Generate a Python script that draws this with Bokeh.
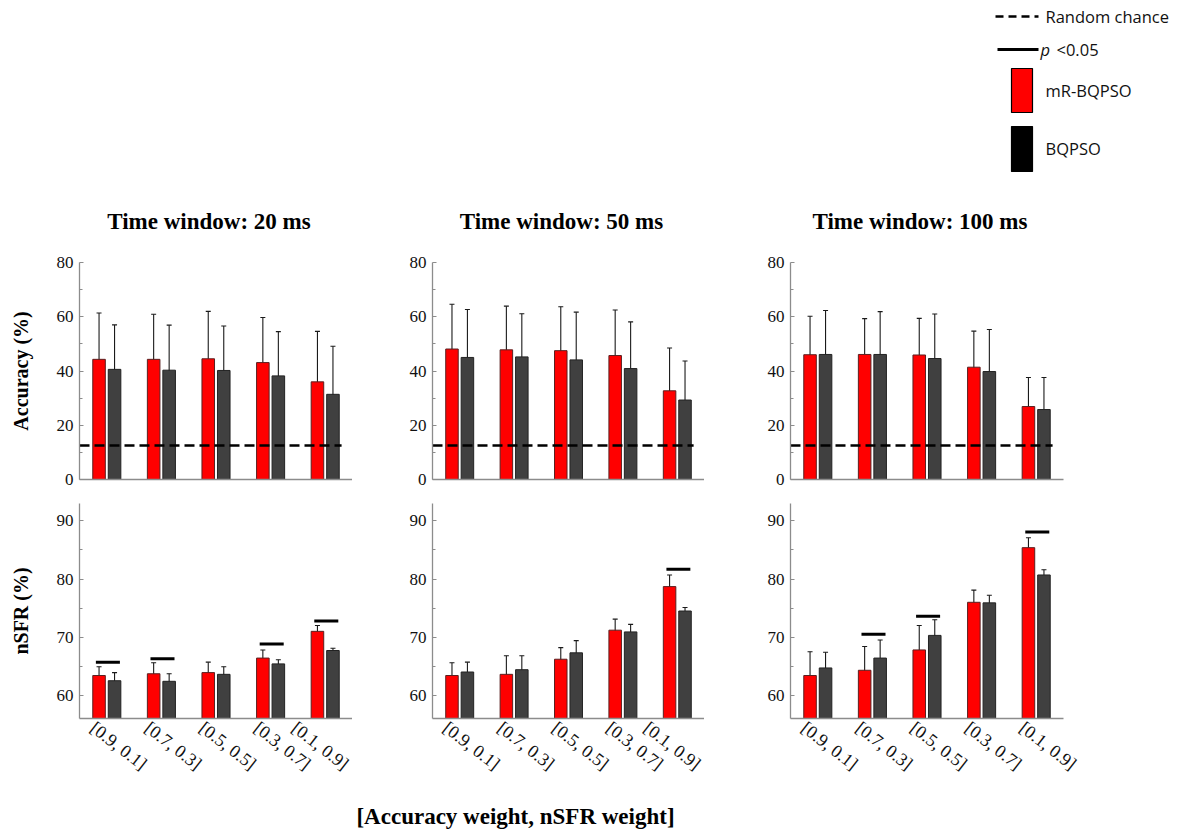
import math
from bokeh.plotting import figure
from bokeh.layouts import column, row
from bokeh.models import ColumnDataSource, Whisker, TeeHead, FixedTicker, Range1d
from bokeh.core.properties import value
from bokeh.embed import file_html
from bokeh.resources import INLINE

# ---------------- data ----------------
weights = ["[0.9, 0.1]", "[0.7, 0.3]", "[0.5, 0.5]", "[0.3, 0.7]", "[0.1, 0.9]"]
windows = ["Time window: 20 ms", "Time window: 50 ms", "Time window: 100 ms"]
methods = ["mR-BQPSO", "BQPSO"]

acc_mr_mean = [[44.3, 44.3, 44.5, 43.1, 36.0],
               [48.1, 47.8, 47.5, 45.7, 32.7],
               [46.0, 46.1, 45.9, 41.4, 26.9]]
acc_mr_hi = [[61.4, 60.9, 62.0, 59.7, 54.6],
             [64.6, 63.9, 63.7, 62.5, 48.5],
             [60.2, 59.3, 59.4, 54.7, 37.6]]
acc_mr_lo = [[25.5, 26.1, 26.0, 24.8, 16.9],
             [28.7, 28.6, 30.0, 26.9, 14.6],
             [30.1, 30.7, 30.1, 26.5, 17.0]]
acc_bq_mean = [[40.6, 40.3, 40.2, 38.2, 31.4],
               [45.0, 45.2, 44.1, 40.9, 29.3],
               [46.1, 46.1, 44.6, 39.8, 25.8]]
acc_bq_hi = [[57.0, 56.9, 56.6, 54.5, 49.1],
             [62.7, 61.1, 61.7, 58.1, 43.7],
             [62.3, 61.9, 61.0, 55.3, 37.6]]
acc_bq_lo = [[21.9, 21.4, 21.7, 19.5, 11.7],
             [25.3, 25.7, 25.2, 21.2, 13.5],
             [28.0, 27.4, 26.4, 22.3, 11.2]]

nsfr_mr_mean = [[63.4, 63.7, 63.9, 66.4, 71.0],
                [63.4, 63.6, 66.2, 71.2, 78.7],
                [63.4, 64.3, 67.8, 76.0, 85.4]]
nsfr_mr_hi = [[64.9, 65.6, 65.7, 67.8, 72.0],
              [65.6, 66.8, 68.2, 73.1, 80.7],
              [67.5, 68.4, 72.0, 78.1, 87.1]]
nsfr_mr_lo = [[61.9, 61.7, 62.0, 64.9, 70.1],
              [61.7, 60.7, 64.1, 68.3, 77.6],
              [59.7, 61.5, 65.0, 72.9, 83.4]]
nsfr_bq_mean = [[62.5, 62.4, 63.6, 65.4, 67.7],
                [64.0, 64.4, 67.3, 70.9, 74.5],
                [64.7, 66.4, 70.3, 75.9, 80.7]]
nsfr_bq_hi = [[63.9, 63.7, 64.9, 66.1, 68.1],
              [65.7, 66.8, 69.4, 72.2, 75.1],
              [67.4, 69.5, 73.0, 77.2, 81.6]]
nsfr_bq_lo = [[61.0, 61.1, 62.2, 64.7, 67.3],
              [62.2, 61.9, 65.1, 69.6, 74.2],
              [62.0, 63.3, 67.6, 74.4, 79.7]]
# height of the "p < 0.05" significance bars (None = not significant)
nsfr_sig = [[65.7, 66.3, None, 68.8, 72.8],
            [None, None, None, None, 81.7],
            [None, 70.5, 73.6, None, 88.1]]
random_chance = 12.5

acc_ticks = [0, 20, 40, 60, 80]
acc_minor = [10, 30, 50, 70]
nsfr_ticks = [60, 70, 80, 90]
nsfr_minor = [65, 75, 85]

# ---------------- style / layout ----------------
RED = "#ff0000"
DARK = "#404040"
SERIF = "Liberation Serif"
SANS = "Open Sans"
W = 1179
HEADER_H = 245
FRAME_L = [79, 432, 790]
FRAME_R = [352, 704, 1063]
CELL_L = [0, 352, 704]
CELL_R = [352, 704, W]
BAR_W = 0.23
OFF = 0.142
LABEL_SHIFT = 0.26
AX_GRAY = "#8c8c8c"

xs = [i + 1 for i in range(len(weights))]


def style_axes(p, ticks, minor, show_x_labels, ylabel):
    p.grid.visible = False
    p.outline_line_color = None
    p.toolbar_location = None
    ya = p.yaxis[0]
    ya.ticker = FixedTicker(ticks=ticks, minor_ticks=minor)
    ya.axis_line_color = AX_GRAY
    ya.axis_line_width = 1.3
    ya.major_tick_line_color = AX_GRAY
    ya.minor_tick_line_color = AX_GRAY
    ya.major_tick_in = 4
    ya.major_tick_out = 0
    ya.minor_tick_in = 3
    ya.minor_tick_out = 0
    ya.major_label_text_font = SERIF
    ya.major_label_text_font_size = "17px"
    ya.major_label_text_color = "#111111"
    ya.major_label_standoff = 6
    if ylabel:
        ya.axis_label = ylabel
        ya.axis_label_text_font = SERIF
        ya.axis_label_text_font_style = "bold"
        ya.axis_label_text_font_size = "20px"
        ya.axis_label_text_color = "#000000"
        ya.axis_label_standoff = 22
    xa = p.xaxis[0]
    xa.axis_line_color = AX_GRAY
    xa.axis_line_width = 1.3
    xa.major_tick_in = 0
    xa.major_tick_out = 0
    xa.minor_tick_line_color = None
    if show_x_labels:
        ticks_x = [x - LABEL_SHIFT for x in xs]
        xa.ticker = FixedTicker(ticks=ticks_x)
        xa.major_label_overrides = {t: w for t, w in zip(ticks_x, weights)}
        xa.major_label_orientation = -0.66
        xa.major_label_text_font = SERIF
        xa.major_label_text_font_size = "18px"
        xa.major_label_text_color = "#111111"
        xa.major_label_standoff = 7
    else:
        xa.ticker = FixedTicker(ticks=[])
        xa.major_label_standoff = 0


def bars(p, mr_m, mr_lo, mr_hi, bq_m, bq_lo, bq_hi):
    src_mr = ColumnDataSource(dict(x=[x - OFF for x in xs], top=mr_m, lo=mr_lo, hi=mr_hi))
    src_bq = ColumnDataSource(dict(x=[x + OFF for x in xs], top=bq_m, lo=bq_lo, hi=bq_hi))
    p.vbar(x="x", top="top", bottom=0, width=BAR_W, source=src_mr,
           fill_color=RED, line_color="#5a2020", line_width=1)
    p.vbar(x="x", top="top", bottom=0, width=BAR_W, source=src_bq,
           fill_color=DARK, line_color="#222222", line_width=1)
    for src in (src_mr, src_bq):
        w = Whisker(source=src, base="x", upper="hi", lower="lo",
                    line_color="#1a1a1a", line_width=1.1,
                    upper_head=TeeHead(size=5, line_color="#1a1a1a", line_width=1.1),
                    lower_head=TeeHead(size=5, line_color="#1a1a1a", line_width=1.1))
        p.add_layout(w)


top_figs = []
bot_figs = []
for k in range(3):
    ml = FRAME_L[k] - CELL_L[k]
    mr = CELL_R[k] - FRAME_R[k]
    # accuracy panel
    pt = figure(width=CELL_R[k] - CELL_L[k], height=17 + 217 + 12,
                x_range=Range1d(0.5, 5.5), y_range=Range1d(0, 80),
                output_backend="svg", toolbar_location=None,
                min_border_left=ml, min_border_right=mr,
                min_border_top=17, min_border_bottom=12)
    bars(pt, acc_mr_mean[k], acc_mr_lo[k], acc_mr_hi[k],
         acc_bq_mean[k], acc_bq_lo[k], acc_bq_hi[k])
    pt.segment(x0=[0.5], x1=[xs[-1] + 0.3], y0=[random_chance], y1=[random_chance],
               line_color="black", line_width=2.5, line_dash="10 5")
    style_axes(pt, acc_ticks, acc_minor, False, "Accuracy (%)" if k == 0 else None)
    top_figs.append(pt)

    # nSFR panel
    pb = figure(width=CELL_R[k] - CELL_L[k], height=12 + 215 + 75,
                x_range=Range1d(0.5, 5.5), y_range=Range1d(56, 93),
                output_backend="svg", toolbar_location=None,
                min_border_left=ml, min_border_right=mr,
                min_border_top=12, min_border_bottom=75)
    bars(pb, nsfr_mr_mean[k], nsfr_mr_lo[k], nsfr_mr_hi[k],
         nsfr_bq_mean[k], nsfr_bq_lo[k], nsfr_bq_hi[k])
    sx0, sx1, sy = [], [], []
    for x, s in zip(xs, nsfr_sig[k]):
        if s is not None:
            sx0.append(x - 0.2)
            sx1.append(x + 0.24)
            sy.append(s)
    if sy:
        pb.segment(x0=sx0, x1=sx1, y0=sy, y1=sy, line_color="black", line_width=3)
    style_axes(pb, nsfr_ticks, nsfr_minor, True, "nSFR (%)" if k == 0 else None)
    bot_figs.append(pb)

# header: legend + panel titles
hd = figure(width=W, height=HEADER_H, x_range=Range1d(0, W), y_range=Range1d(HEADER_H, 0),
            x_axis_type=None, y_axis_type=None, output_backend="svg", toolbar_location=None,
            min_border_left=0, min_border_right=0, min_border_top=0, min_border_bottom=0)
hd.grid.visible = False
hd.outline_line_color = None
hd.segment(x0=[995], x1=[1038], y0=[16], y1=[16], line_color="black", line_width=2.5, line_dash="8 5")
hd.text(x=[1045], y=[16], text=["Random chance"], text_font=value(SANS), text_font_size="16.5px",
        text_baseline="middle", text_align="left", text_color="#111111")
hd.segment(x0=[997], x1=[1038], y0=[49], y1=[49], line_color="black", line_width=3)
hd.text(x=[1040], y=[49], text=["p"], text_font=value(SANS), text_font_size="16.5px",
        text_font_style="italic", text_baseline="middle", text_align="left", text_color="#111111")
hd.text(x=[1056], y=[49], text=["<0.05"], text_font=value(SANS), text_font_size="16.5px",
        text_baseline="middle", text_align="left", text_color="#111111")
hd.quad(left=[1011], right=[1032], top=[68], bottom=[112], fill_color=RED, line_color="black", line_width=1.2)
hd.quad(left=[1011], right=[1032], top=[126], bottom=[171], fill_color="black", line_color="black", line_width=1.2)
hd.text(x=[1045, 1045], y=[90, 148], text=methods, text_font=value(SANS), text_font_size="16.5px",
        text_baseline="middle", text_align="left", text_color="#111111")
hd.text(x=[(FRAME_L[k] + FRAME_R[k]) / 2 - 7 for k in range(3)], y=[221] * 3, text=windows,
        text_font=value(SERIF), text_font_size="23px", text_font_style="bold",
        text_baseline="middle", text_align="center", text_color="#000000")

FOOT_H = 830 - HEADER_H - (17 + 217 + 12) - (12 + 215 + 75)
ft = figure(width=W, height=FOOT_H, x_range=Range1d(0, W), y_range=Range1d(FOOT_H, 0),
            x_axis_type=None, y_axis_type=None, output_backend="svg", toolbar_location=None,
            min_border_left=0, min_border_right=0, min_border_top=0, min_border_bottom=0)
ft.grid.visible = False
ft.outline_line_color = None
ft.text(x=[515], y=[FOOT_H / 2 + 4], text=["[Accuracy weight, nSFR weight]"],
        text_font=value(SERIF), text_font_size="23px", text_font_style="bold",
        text_baseline="middle", text_align="center", text_color="#000000")

layout = column(hd, row(*top_figs), row(*bot_figs), ft)
open("out.html", "w").write(file_html(layout, INLINE))
